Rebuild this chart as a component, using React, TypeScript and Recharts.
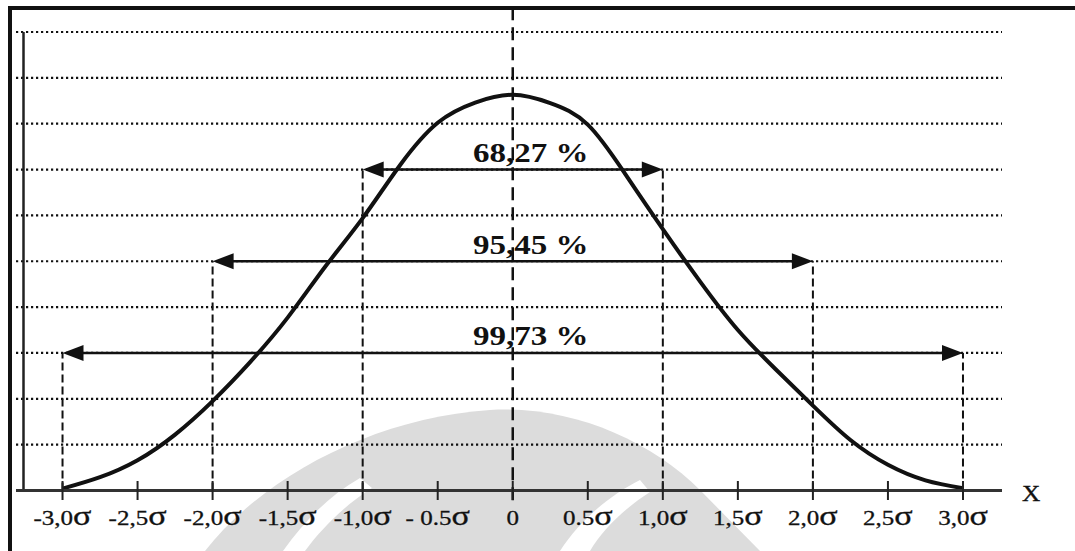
import { ComposedChart, Line, XAxis, YAxis, ReferenceLine, Label } from 'recharts'

// bell curve, x in sigma, height in grid units
const sigmaX = [-3, -2.75, -2.5, -2.25, -2, -1.75, -1.5, -1.25, -1, -0.75, -0.5, -0.25, 0,
  0.25, 0.5, 0.75, 1, 1.25, 1.5, 1.75, 2, 2.25, 2.5, 2.75, 3]
const density = [0.04, 0.29, 0.66, 1.22, 1.95, 2.8, 3.77, 4.88, 5.94, 7.1, 8.02, 8.46, 8.63,
  8.45, 7.98, 6.9, 5.7, 4.55, 3.5, 2.65, 1.85, 1.1, 0.56, 0.22, 0.05]

const tickValues = [-3, -2.5, -2, -1.5, -1, -0.5, 0, 0.5, 1, 1.5, 2, 2.5, 3]
const tickLabels = ['-3,0', '-2,5', '-2,0', '-1,5', '-1,0', '- 0.5', '0', '0.5', '1,0', '1,5', '2,0', '2,5', '3,0']

const gridLevels = [1, 2, 3, 4, 5, 6, 7, 8, 9, 10]

const rangeLabels = ['68,27 %', '95,45 %', '99,73 %']
const rangeSigma = [1, 2, 3]
const rangeLevel = [7, 5, 3]

const data = sigmaX.map((x, i) => ({ x, v: density[i] }))

const serif = '"Liberation Serif", "Times New Roman", serif'

function SigmaTick({ x, y, payload }: any) {
  const i = tickValues.indexOf(payload.value)
  return (
    <g>
      <line x1={x} x2={x} y1={y - 9.5} y2={y + 9.5} stroke="#222" strokeWidth={2} />
      <text
        transform={`translate(${x},${y + 34.5}) scale(1.22,1)`}
        textAnchor="middle"
        fontFamily={serif}
        fontSize={20.5}
        fill="#111"
        stroke="#111"
        strokeWidth={0.3}
      >
        {tickLabels[i]}
        {payload.value !== 0 && <tspan fontSize={28}>σ</tspan>}
      </text>
    </g>
  )
}

function rangeArrow(label: string) {
  return (props: any) => {
    const { x1, y1, x2 } = props
    const cx = (x1 + x2) / 2
    return (
      <g>
        <line x1={x1 + 10} x2={x2 - 10} y1={y1} y2={y1} stroke="#111" strokeWidth={2.5} />
        <path d={`M${x1},${y1} L${x1 + 21},${y1 - 8} L${x1 + 21},${y1 + 8} Z`} fill="#111" />
        <path d={`M${x2},${y1} L${x2 - 21},${y1 - 8} L${x2 - 21},${y1 + 8} Z`} fill="#111" />
        <text
          transform={`translate(${cx + 18},${y1 - 7.5}) scale(1.2,1)`}
          textAnchor="middle"
          fontFamily={serif}
          fontWeight="bold"
          fontSize={27.5}
          fill="#111"
        >
          {label}
        </text>
      </g>
    )
  }
}

function AxisName({ viewBox }: any) {
  return (
    <text
      transform={`translate(${viewBox.x + viewBox.width + 29},${viewBox.y + 10}) scale(1.1,1)`}
      textAnchor="middle"
      fontFamily={serif}
      fontSize={23}
      fill="#111"
      stroke="#111"
      strokeWidth={0.4}
    >
      X
    </text>
  )
}

export default function App() {
  return (
    <div style={{ position: 'absolute', left: 0, top: 0, width: 1075, height: 551, background: '#fff', overflow: 'hidden' }}>
      {/* faint watermark behind the chart */}
      <svg width={1075} height={551} style={{ position: 'absolute', left: 0, top: 0 }}>
        <path d="M205,551 C260,480 370,418 490,410 C570,405 650,440 700,490 L760,551 Z" fill="#dcdcdc" />
        <path d="M283,551 C305,520 330,495 360,478 L372,488 C345,505 322,528 305,551 Z" fill="#fff" />
        <path d="M560,551 C580,520 610,495 640,480 L650,492 C625,508 602,530 590,551 Z" fill="#fff" />
      </svg>
      <div
        style={{
          position: 'absolute',
          left: 8,
          top: 6,
          width: 1067,
          height: 545,
          borderTop: '4px solid #111',
          borderLeft: '4px solid #111',
          boxSizing: 'border-box',
        }}
      />
      <ComposedChart
        width={1075}
        height={551}
        data={data}
        margin={{ top: 32, right: 73, bottom: 20.5, left: 16 }}
        style={{ position: 'absolute', left: 0, top: 0 }}
      >
        <XAxis
          dataKey="x"
          type="number"
          domain={[-3.31, 3.26]}
          ticks={tickValues}
          interval={0}
          height={40}
          tickSize={0}
          tickMargin={0}
          tickLine={false}
          tick={<SigmaTick />}
          axisLine={{ stroke: '#333', strokeWidth: 3 }}
          allowDataOverflow
        >
          <Label content={<AxisName />} />
        </XAxis>
        <YAxis hide type="number" domain={[0, 10]} allowDataOverflow />

        {gridLevels.map(g => (
          <ReferenceLine key={g} y={g} stroke="#111" strokeWidth={2.2} strokeDasharray="2.2 2.8" />
        ))}

        <ReferenceLine
          segment={[{ x: -3.26, y: 0 }, { x: -3.26, y: 10 }]}
          stroke="#222"
          strokeWidth={2.5}
        />

        <ReferenceLine
          segment={[{ x: 0, y: -0.21 }, { x: 0, y: 10.48 }]}
          stroke="#111"
          strokeWidth={2.5}
          strokeDasharray="13 7"
          ifOverflow="visible"
        />

        {rangeSigma.map((s, i) => (
          <ReferenceLine
            key={'l' + s}
            segment={[{ x: -s, y: 0 }, { x: -s, y: rangeLevel[i] }]}
            stroke="#111"
            strokeWidth={2}
            strokeDasharray="8 4"
          />
        ))}
        {rangeSigma.map((s, i) => (
          <ReferenceLine
            key={'r' + s}
            segment={[{ x: s, y: 0 }, { x: s, y: rangeLevel[i] }]}
            stroke="#111"
            strokeWidth={2}
            strokeDasharray="8 4"
          />
        ))}

        <Line
          type="natural"
          dataKey="v"
          stroke="#111"
          strokeWidth={4}
          dot={false}
          isAnimationActive={false}
        />

        {rangeSigma.map((s, i) => (
          <ReferenceLine
            key={'a' + s}
            segment={[{ x: -s, y: rangeLevel[i] }, { x: s, y: rangeLevel[i] }]}
            shape={rangeArrow(rangeLabels[i])}
          />
        ))}
      </ComposedChart>
    </div>
  )
}
